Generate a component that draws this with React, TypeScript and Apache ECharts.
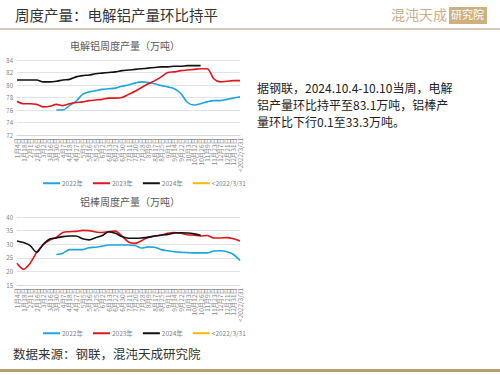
import React, { useEffect, useRef } from "react";
import * as echarts from "echarts";

const categories = [
  "1月4日", "1月18日", "2月1日", "2月16日", "3月2日", "3月16日", "3月30日", "4月7日",
  "4月18日", "4月27日", "5月5日", "5月16日", "5月25日", "6月2日", "6月13日", "6月22日",
  "6月30日", "7月11日", "7月20日", "7月28日", "8月9日", "8月17日", "8月25日", "9月1日",
  "9月14日", "9月22日", "10月3日", "10月12日", "10月26日", "11月9日", "11月23日", "12月7日",
  "12月21日", "12月31日", "<2022/3/31",
];

const seriesNames = ["2022年", "2023年", "2024年", "<2022/3/31"];

const alu2022 = [
  null, null, null, null, null, null, 76.0, 76.0, 76.7, 77.4, 78.5, 78.9, 79.1, 79.3, 79.4, 79.5,
  79.8, 80.0, 80.3, 80.5, 80.4, 80.2, 79.9, 79.7, 79.4, 78.6, 77.2, 76.8, 77.0, 77.3, 77.5, 77.5,
  77.7, 77.9, 78.1,
];
const alu2023 = [
  77.4, 77.0, 77.0, 76.9, 76.5, 76.6, 76.9, 76.7, 77.0, 77.2, 77.3, 77.5, 77.6, 77.7, 77.9, 77.9,
  78.0, 78.5, 79.0, 79.6, 80.2, 80.7, 81.3, 82.0, 82.1, 82.3, 82.4, 82.5, 82.6, 82.6, 81.0, 80.5,
  80.6, 80.7, 80.7,
];
const alu2024 = [
  80.8, 80.8, 80.8, 80.8, 80.5, 80.5, 80.6, 80.8, 80.9, 81.3, 81.5, 81.6, 81.8, 81.9, 82.0, 82.1,
  82.3, 82.4, 82.5, 82.6, 82.7, 82.8, 82.9, 82.9, 83.0, 83.0, 83.1, 83.1, 83.1,
];
const aluOld: (number | null)[] = [];

const rod2022 = [
  null, null, null, null, null, null, 26.2, 26.7, 28.0, 28.0, 28.0, 28.7, 28.9, 29.3, 29.7, 29.7,
  29.7, 29.7, 29.5, 28.6, 29.0, 28.9, 28.0, 27.6, 27.2, 27.0, 26.9, 26.8, 26.8, 26.8, 27.5, 27.6,
  27.2, 26.2, 24.0,
];
const rod2023 = [
  23.0, 20.8, 23.0, 27.0, 29.8, 31.5, 32.5, 34.3, 34.6, 34.7, 35.1, 35.0, 34.5, 34.3, 34.6, 34.8,
  33.0, 30.8, 30.3, 31.3, 32.6, 33.0, 33.3, 34.0, 34.3, 34.0, 33.5, 33.3, 33.0, 33.2, 32.3, 32.3,
  32.4, 32.0, 31.2,
];
const rod2024 = [
  31.2, 30.6, 29.5, 27.0, 30.0, 31.9, 32.3, 32.8, 33.0, 33.0, 32.0, 31.6, 32.4, 33.2, 34.6, 34.0,
  32.8, 32.2, 32.2, 32.3, 32.5, 33.0, 33.4, 33.6, 34.1, 34.2, 34.1, 33.8, 33.3,
];
const rodOld: (number | null)[] = [];

const colors = ["#1BA6DE", "#E0161B", "#111111", "#F2B900"];

export default function App() {
  const ref = useRef<HTMLDivElement>(null);
  useEffect(() => {
    if (!ref.current) return;
    const chart = echarts.init(ref.current, null, { renderer: "svg" });
    const font = "'Noto Sans CJK SC', 'Noto Sans', sans-serif";
    const xAxisBase = (gridIndex: number) => ({
      type: "category" as const,
      gridIndex,
      data: categories,
      boundaryGap: false,
      axisLine: { lineStyle: { color: "#d9d9d9" } },
      axisTick: { show: false },
      axisLabel: { rotate: 90, interval: 0, fontSize: 6.5, color: "#8a8a8a", fontFamily: font, margin: 3 },
    });
    const mk = (name: string, data: (number | null)[], idx: number, axis: number) => ({
      name,
      type: "line" as const,
      xAxisIndex: axis,
      yAxisIndex: axis,
      data,
      showSymbol: false,
      smooth: 0.3,
      lineStyle: { width: 1.6, color: colors[idx] },
      itemStyle: { color: colors[idx] },
    });
    const legendBase = (top: number) => ({
      top,
      left: 38,
      itemWidth: 17,
      itemHeight: 2,
      itemGap: 10,
      icon: "rect",
      data: seriesNames,
      textStyle: { fontSize: 6.5, color: "#7f7f7f", fontFamily: font, padding: [0, 0, 0, -3] },
    });
    chart.setOption({
      animation: false,
      color: colors,
      title: [
        {
          text: "电解铝周度产量（万吨）",
          left: 120,
          textAlign: "center",
          top: 35,
          textStyle: { fontSize: 10, fontWeight: "normal", color: "#595959", fontFamily: font },
        },
        {
          text: "铝棒周度产量（万吨）",
          left: 125,
          textAlign: "center",
          top: 191,
          textStyle: { fontSize: 10, fontWeight: "normal", color: "#595959", fontFamily: font },
        },
      ],
      legend: [
        { ...legendBase(175) },
        { ...legendBase(325) },
      ],
      grid: [
        { left: 17, width: 223, top: 60, height: 75 },
        { left: 17, width: 223, top: 217, height: 68 },
      ],
      xAxis: [xAxisBase(0), xAxisBase(1)],
      yAxis: [
        {
          type: "value",
          gridIndex: 0,
          min: 72,
          max: 84,
          interval: 2,
          axisLine: { show: false },
          axisTick: { show: false },
          splitLine: { lineStyle: { color: "#e3e3e3" } },
          axisLabel: { fontSize: 6, color: "#7f7f7f", fontFamily: font, margin: 4 },
        },
        {
          type: "value",
          gridIndex: 1,
          min: 15,
          max: 40,
          interval: 5,
          axisLine: { show: false },
          axisTick: { show: false },
          splitLine: { lineStyle: { color: "#e3e3e3" } },
          axisLabel: { fontSize: 6, color: "#7f7f7f", fontFamily: font, margin: 4 },
        },
      ],
      series: [
        mk(seriesNames[0], alu2022, 0, 0),
        mk(seriesNames[1], alu2023, 1, 0),
        mk(seriesNames[2], alu2024, 2, 0),
        mk(seriesNames[3], aluOld, 3, 0),
        mk(seriesNames[0], rod2022, 0, 1),
        mk(seriesNames[1], rod2023, 1, 1),
        mk(seriesNames[2], rod2024, 2, 1),
        mk(seriesNames[3], rodOld, 3, 1),
      ],
      graphic: [
        {
          type: "text",
          left: 15,
          top: 7,
          style: { text: "周度产量：电解铝产量环比持平", fontSize: 14.5, fill: "#333", fontFamily: font },
        },
        {
          type: "text",
          left: 391,
          top: 7,
          style: { text: "混沌天成", fontSize: 14, fill: "#C9AF88", fontFamily: font },
        },
        {
          type: "rect",
          shape: { x: 449, y: 7, width: 38, height: 17 },
          style: { fill: "#CDB07F" },
        },
        {
          type: "text",
          left: 451,
          top: 8,
          style: { text: "研究院", fontSize: 11, fill: "#fff", fontFamily: font },
        },
        {
          type: "rect",
          shape: { x: 0, y: 28, width: 500, height: 2 },
          style: { fill: "#D3C8B4" },
        },
        {
          type: "text",
          left: 257,
          top: 79,
          style: {
            text: "据钢联，2024.10.4-10.10当周，电解\n铝产量环比持平至83.1万吨，铝棒产\n量环比下行0.1至33.3万吨。",
            fontSize: 12,
            lineHeight: 17,
            fill: "#222",
            fontFamily: font,
          },
        },
        {
          type: "text",
          left: 13,
          top: 347,
          style: { text: "数据来源：钢联，混沌天成研究院", fontSize: 12.5, fill: "#333", fontFamily: font },
        },
        {
          type: "rect",
          shape: { x: 0, y: 369, width: 500, height: 3 },
          style: { fill: "#B99C6C" },
        },
      ],
    });
    return () => chart.dispose();
  }, []);
  return (
    <div
      ref={ref}
      style={{ position: "fixed", left: 0, top: 0, width: 500, height: 375, background: "#fff" }}
    />
  );
}
